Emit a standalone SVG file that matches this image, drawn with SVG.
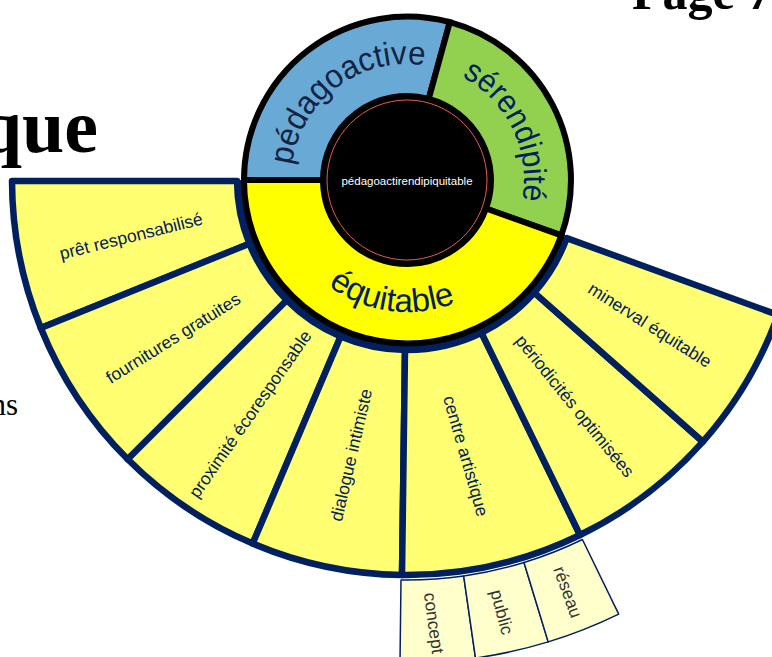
<svg xmlns="http://www.w3.org/2000/svg" width="772" height="657" viewBox="0 0 772 657">
<style>
text{font-family:"Liberation Sans",Arial,sans-serif}
.bg{font-family:"Liberation Serif","Times New Roman",serif;fill:#000}
.fan{fill:#FFFF71;stroke:#002060;stroke-width:6.500;stroke-linejoin:round}
.sub{fill:#FFFFCC;stroke:#002060;stroke-width:1.500;stroke-linejoin:round}
.seg{stroke:#000;stroke-width:6;stroke-linejoin:miter}
.fl{font-size:17.500px;fill:#002060;text-anchor:middle}
.sl{font-size:17.500px;fill:#333;text-anchor:middle}
.rl{text-anchor:middle}
</style>
<defs>
<path id="p1" d="M291 180A116 116 0 0 1 439 68.500"/>
<path id="p2" d="M435.300 66.500A117 117 0 0 1 513.900 227.600"/>
<path id="p3" d="M313.700 273.300A132 132 0 0 0 473 294.300"/>
</defs>
<rect width="772" height="657" fill="#fff"/>
<text class="bg" x="98" y="152" font-size="76" font-weight="bold" text-anchor="end">que</text>
<text class="bg" x="632" y="9" font-size="50" font-weight="bold">Page 7</text>
<text class="bg" x="18" y="415" font-size="31" text-anchor="end">ns</text>
<g id="sub-concept"><path class="sub" d="M401 580L400 663A483 483 0 0 0 475.500 658.100L463.700 576A400 400 0 0 1 401 580Z"/><text class="sl" transform="translate(434 623) rotate(82)" dy=".35em">concept</text></g>
<g id="sub-public"><path class="sub" d="M463.700 576L475.500 658.100A483 483 0 0 0 548.200 641.900L524 562.500A400 400 0 0 1 463.700 576Z"/><text class="sl" transform="translate(502 612) rotate(75)" dy=".35em">public</text></g>
<g id="sub-reseau"><path class="sub" d="M524 562.500L548.200 641.900A483 483 0 0 0 618.700 614.100L582.400 539.500A400 400 0 0 1 524 562.500Z"/><text class="sl" transform="translate(568 592) rotate(70)" dy=".35em">réseau</text></g>
<g id="fan-pret"><path class="fan" d="M237 181L12 181A395 395 0 0 0 40.800 328L249.400 243.700A170 170 0 0 1 237 181Z"/><text class="fl" transform="translate(131 236) rotate(-14)" dy=".35em">prêt responsabilisé</text></g>
<g id="fan-fournitures"><path class="fan" d="M249.400 243.700L40.800 328A395 395 0 0 0 127.700 459.300L286.800 300.200A170 170 0 0 1 249.400 243.700Z"/><text class="fl" transform="translate(173 338) rotate(-32)" dy=".35em">fournitures gratuites</text></g>
<g id="fan-proximite"><path class="fan" d="M286.800 300.200L127.700 459.300A395 395 0 0 0 252.700 543.600L340.600 336.500A170 170 0 0 1 286.800 300.200Z"/><text class="fl" transform="translate(250 414) rotate(-55)" dy=".35em">proximité écoresponsable</text></g>
<g id="fan-dialogue"><path class="fan" d="M340.600 336.500L252.700 543.600A395 395 0 0 0 402 575L405 350A170 170 0 0 1 340.600 336.500Z"/><text class="fl" transform="translate(351 455) rotate(-77)" dy=".35em">dialogue intimiste</text></g>
<g id="fan-centre"><path class="fan" d="M405 350L402 575A395 395 0 0 0 580 535L481.500 332.800A170 170 0 0 1 405 350Z"/><text class="fl" transform="translate(466 456) rotate(74)" dy=".35em">centre artistique</text></g>
<g id="fan-periodicites"><path class="fan" d="M481.500 332.800L580 535A395 395 0 0 0 702.900 441.700L534.300 292.600A170 170 0 0 1 481.500 332.800Z"/><text class="fl" transform="translate(575 406) rotate(51)" dy=".35em">périodicités optimisées</text></g>
<g id="fan-minerval"><path class="fan" d="M534.300 292.600L702.900 441.700A395 395 0 0 0 778 315L566.700 238.100A170 170 0 0 1 534.300 292.600Z"/><text class="fl" transform="translate(650 325) rotate(32.500)" dy=".35em">minerval équitable</text></g>
<path id="fan-hub" d="M239 180A168 168 0 0 0 565 237.400" fill="none" stroke="#002060" stroke-width="8"/>
<g id="ring-pedagoactive"><path class="seg" fill="#68A9D6" d="M244 180A163.500 163.500 0 0 1 449.800 22.100L428.700 98.900A84 84 0 0 0 323 180Z"/><text class="rl" font-size="33" fill="#14233f"><textPath href="#p1" startOffset="50%" textLength="185" lengthAdjust="spacingAndGlyphs">pédagoactive</textPath></text></g>
<g id="ring-serendipite"><path class="seg" fill="#92D050" d="M449.800 22.100A163.500 163.500 0 0 1 561.300 235.400L486 208.500A84 84 0 0 0 428.700 98.900Z"/><text class="rl" font-size="32" fill="#002060"><textPath href="#p2" startOffset="50%" textLength="147" lengthAdjust="spacingAndGlyphs">sérendipité</textPath></text></g>
<g id="ring-equitable"><path class="seg" fill="#FFFF00" d="M561.300 235.400A163.500 163.500 0 0 1 244 180L323 180A84 84 0 0 0 486 208.500Z"/><text class="rl" font-size="33" fill="#002060"><textPath href="#p3" startOffset="50%">équitable</textPath></text></g>
<g id="center"><circle cx="407" cy="180" r="86" fill="#000"/><circle cx="407" cy="180" r="80" fill="#000" stroke="#E85A5A" stroke-width="1"/><text x="407" y="185" font-size="11.500" fill="#fff" text-anchor="middle">pédagoactirendipiquitable</text></g>
</svg>
